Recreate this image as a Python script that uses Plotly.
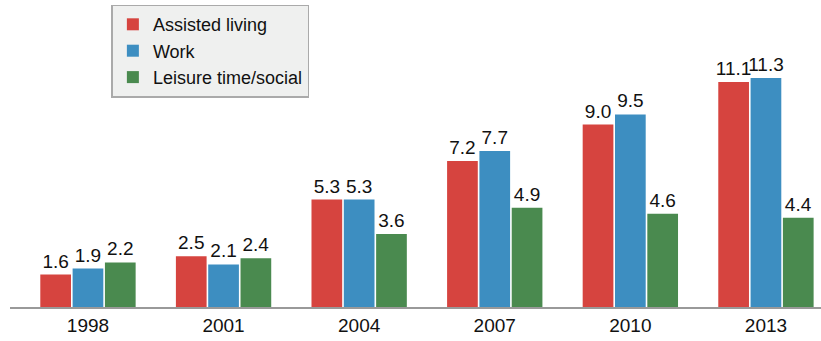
import plotly.graph_objects as go

years = ["1998", "2001", "2004", "2007", "2010", "2013"]
assisted_living = [1.6, 2.5, 5.3, 7.2, 9.0, 11.1]
work = [1.9, 2.1, 5.3, 7.7, 9.5, 11.3]
leisure = [2.2, 2.4, 3.6, 4.9, 4.6, 4.4]

series = [
    ("Assisted living", assisted_living, "#d6443f"),
    ("Work", work, "#3d8ec1"),
    ("Leisure time/social", leisure, "#4a8a4f"),
]

fig = go.Figure()
for name, vals, color in series:
    fig.add_trace(go.Bar(
        x=years, y=vals, name=name,
        marker=dict(color=color, line=dict(width=0)),
        text=[f"{v:.1f}" for v in vals],
        textposition="outside",
        constraintext="none",
        textfont=dict(size=19, color="#111111"),
        cliponaxis=False,
    ))

fig.update_layout(
    width=821, height=341,
    margin=dict(l=10, r=0, t=0, b=34),
    barmode="group",
    bargap=0.285,
    bargroupgap=0.05,
    plot_bgcolor="white",
    paper_bgcolor="white",
    font=dict(family="Liberation Sans, Arial, sans-serif", color="#111111"),
    showlegend=True,
    legend=dict(
        x=0.125, y=0.985, xanchor="left", yanchor="top",
        bgcolor="#eff0ef", bordercolor="#aaaaaa", borderwidth=1.5,
        font=dict(size=18, color="#111111"),
        itemwidth=30,
        entrywidth=175, entrywidthmode="pixels",
        tracegroupgap=0,
    ),
    xaxis=dict(
        type="category",
        range=[-0.575, 5.406],
        showline=True, linecolor="#999999", linewidth=2,
        ticks="", showgrid=False,
        tickfont=dict(size=19, color="#111111"),
    ),
    yaxis=dict(
        range=[0, 15.15],
        visible=False, showgrid=False, zeroline=False,
    ),
)

fig.write_html("out.html")
